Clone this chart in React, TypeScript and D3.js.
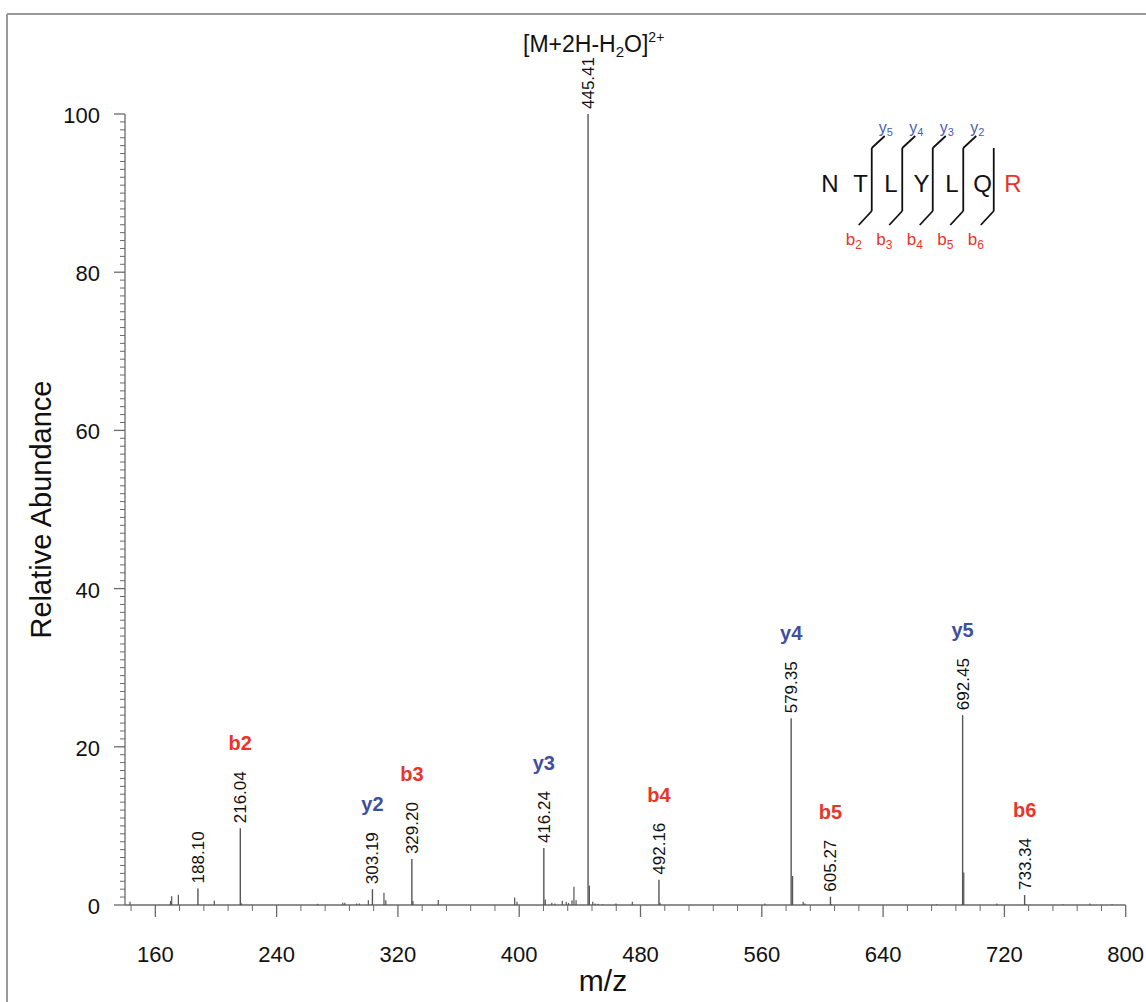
import React from "react";
import * as d3 from "d3";

// ---- data ----
const labeledMz = [188.10, 216.04, 303.19, 329.20, 416.24, 445.41, 492.16, 579.35, 605.27, 692.45, 733.34];
const labeledInt = [2.1, 9.7, 2.0, 5.8, 7.2, 100, 3.2, 23.6, 1.05, 24.0, 1.26];
const ionLabels = ["", "b2", "y2", "b3", "y3", "", "b4", "y4", "b5", "y5", "b6"];

const minorMz = [143.3, 170.0, 170.8, 175.2, 198.9, 216.9, 267.0, 283.6, 285.0, 292.8, 294.5, 300.5, 310.8, 312.0,
  329.9, 346.6, 397.0, 398.5, 417.2, 421.5, 423.5, 428.4, 431.0, 432.5, 434.8, 436.1, 437.5, 446.3, 448.5, 450.0,
  452.0, 455.0, 463.8, 474.6, 492.8, 562.0, 580.3, 587.3, 588.5, 606.0, 675.3, 693.2, 715.0, 734.3, 758.6, 776.4, 791.0];
const minorInt = [0.4, 0.5, 1.1, 1.3, 0.55, 0.2, 0.15, 0.3, 0.3, 0.2, 0.2, 0.6, 1.56, 0.6,
  0.5, 0.63, 0.95, 0.4, 0.7, 0.3, 0.2, 0.55, 0.4, 0.25, 0.6, 2.3, 0.6, 2.45, 0.4, 0.2,
  0.15, 0.1, 0.2, 0.4, 0.3, 0.2, 3.67, 0.4, 0.2, 0.1, 0.1, 4.1, 0.2, 0.1, 0.1, 0.2, 0.1];

const xMajorTicks = [160, 240, 320, 400, 480, 560, 640, 720, 800];
const yMajorTicks = [0, 20, 40, 60, 80, 100];

const residues = ["N", "T", "L", "Y", "L", "Q", "R"];
const yIons = ["5", "4", "3", "2", ""];
const bIons = ["2", "3", "4", "5", "6"];

const RED = "#e8352a";
const BLUE = "#3f4f9f";
const FONT = "'Liberation Sans', Arial, Helvetica, sans-serif";

export default function App() {
  const W = 1146, H = 1002;
  const x = d3.scaleLinear().domain([140, 800]).range([125, 1125.7]);
  const y = d3.scaleLinear().domain([0, 100]).range([905, 114]);

  const xMinor = d3.range(144, 800, 16).filter((v) => v % 80 !== 0);
  const yMinor = d3.range(1, 100, 1).filter((v) => v % 20 !== 0);

  const axisColor = "#6a6a6a";
  const peakColor = "#555";

  const pepX = d3.scaleLinear().domain([0, 6]).range([830, 1013]);

  return (
    <svg width={W} height={H} style={{ position: "absolute", left: 0, top: 0, background: "#fff" }} fontFamily={FONT}>
      <rect x={0} y={0} width={W} height={H} fill="#fff" />
      {/* frame */}
      <line x1={7} y1={14} x2={W} y2={14} stroke="#9a9a9a" strokeWidth={2} />
      <line x1={7} y1={14} x2={7} y2={H} stroke="#9a9a9a" strokeWidth={2} />

      {/* y axis */}
      <line x1={x(140)} y1={y(0)} x2={x(140)} y2={y(100)} stroke={axisColor} strokeWidth={1.3} />
      {yMinor.map((v) => (
        <line key={"ym" + v} x1={x(140) - 5} x2={x(140)} y1={y(v)} y2={y(v)} stroke={axisColor} strokeWidth={1} />
      ))}
      {yMajorTicks.map((v) => (
        <g key={"yM" + v}>
          <line x1={x(140) - 11} x2={x(140)} y1={y(v)} y2={y(v)} stroke={axisColor} strokeWidth={1.3} />
          <text x={100} y={y(v) + 9} fontSize={22} textAnchor="end" fill="#111">{v}</text>
        </g>
      ))}
      <text transform={`translate(41,${(y(0) + y(100)) / 2}) rotate(-90)`} textAnchor="middle" fontSize={29} fill="#111" dy="0.35em">
        Relative Abundance
      </text>

      {/* x axis */}
      <line x1={x(140)} y1={y(0)} x2={x(800)} y2={y(0)} stroke={axisColor} strokeWidth={1.3} />
      {xMinor.map((v) => (
        <line key={"xm" + v} x1={x(v)} x2={x(v)} y1={y(0)} y2={y(0) + 6} stroke={axisColor} strokeWidth={1} />
      ))}
      {xMajorTicks.map((v) => (
        <g key={"xM" + v}>
          <line x1={x(v)} x2={x(v)} y1={y(0)} y2={y(0) + 12} stroke={axisColor} strokeWidth={1.3} />
          <text x={x(v)} y={962} fontSize={22} textAnchor="middle" fill="#111">{v}</text>
        </g>
      ))}
      <text x={603} y={991} fontSize={30} textAnchor="middle" fill="#111">m/z</text>

      {/* minor peaks */}
      {minorMz.map((m, i) => (
        <line key={"mp" + i} x1={x(m)} x2={x(m)} y1={y(0)} y2={y(minorInt[i])} stroke={peakColor} strokeWidth={1.2} />
      ))}

      {/* labeled peaks */}
      {labeledMz.map((m, i) => {
        const px = x(m);
        const top = y(labeledInt[i]);
        const ion = ionLabels[i];
        return (
          <g key={"lp" + i}>
            <line x1={px} x2={px} y1={y(0)} y2={top} stroke={peakColor} strokeWidth={1.4} />
            <text transform={`translate(${px},${top - 5}) rotate(-90)`} fontSize={17} dy="0.35em" fill="#111">
              {m.toFixed(2)}
            </text>
            {ion && (
              <text x={px} y={top - 78} fontSize={20} fontWeight="bold" textAnchor="middle" fill={ion[0] === "b" ? RED : BLUE}>
                {ion}
              </text>
            )}
          </g>
        );
      })}

      {/* precursor label */}
      <text x={x(445.41) - 65} y={52} fontSize={23} fill="#111">
        [M+2H-H<tspan fontSize={15} dy={5}>2</tspan>
        <tspan dy={-5}>O]</tspan>
        <tspan fontSize={14} dy={-10}>2+</tspan>
      </text>

      {/* peptide diagram */}
      {residues.map((r, i) => (
        <text key={"res" + i} x={pepX(i)} y={192} fontSize={24} textAnchor="middle" fill={i === 6 ? RED : "#111"}>
          {r}
        </text>
      ))}
      {bIons.map((b, k) => {
        const i = k + 1;
        const lx = (pepX(i) + pepX(i + 1)) / 2 - 4;
        const yl = yIons[k];
        return (
          <g key={"frag" + k}>
            <line x1={lx} x2={lx} y1={148} y2={211} stroke="#111" strokeWidth={1.8} />
            <line x1={lx} x2={lx - 13} y1={211} y2={225} stroke="#111" strokeWidth={1.8} />
            {yl && <line x1={lx} x2={lx + 13} y1={148} y2={136} stroke="#111" strokeWidth={1.8} />}
            {yl && (
              <text x={lx + 14} y={133} fontSize={16} textAnchor="middle" fill="#4a5db0">
                y<tspan fontSize={11} dy={3}>{yl}</tspan>
              </text>
            )}
            <text x={lx - 18} y={245} fontSize={17} textAnchor="middle" fill={RED}>
              b<tspan fontSize={12} dy={4}>{b}</tspan>
            </text>
          </g>
        );
      })}
    </svg>
  );
}
